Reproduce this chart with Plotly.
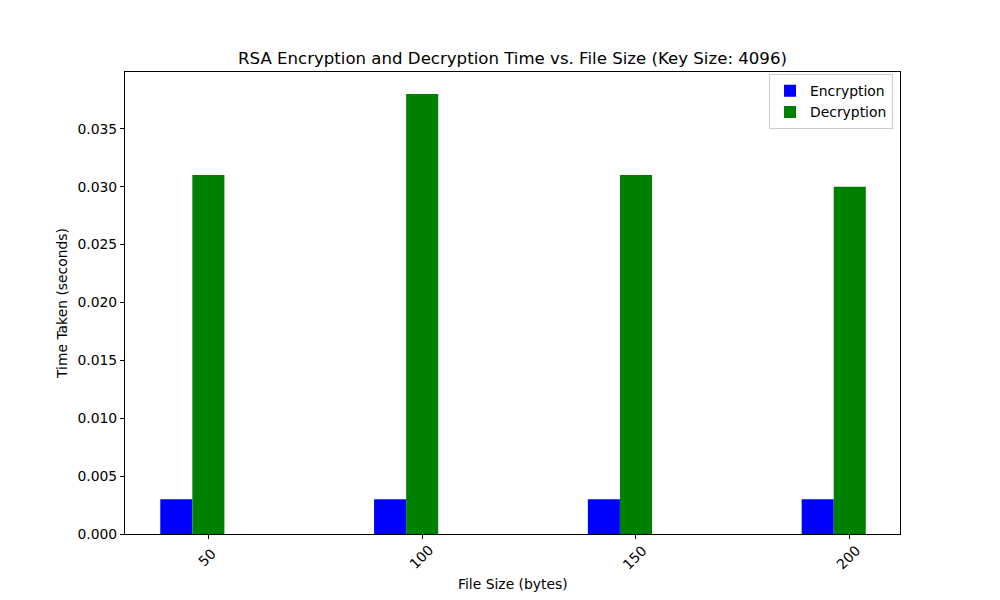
import plotly.graph_objects as go

file_sizes = [50, 100, 150, 200]
encryption_times = [0.003, 0.003, 0.003, 0.003]
decryption_times = [0.031, 0.038, 0.031, 0.030]
y_ticks = [0.0, 0.005, 0.010, 0.015, 0.020, 0.025, 0.030, 0.035]
y_tick_labels = ["0.000", "0.005", "0.010", "0.015", "0.020", "0.025", "0.030", "0.035"]
x_tick_labels = [str(v) for v in file_sizes]

bar_width = 7.5
font = "DejaVu Sans"

fig = go.Figure()
fig.add_trace(go.Bar(x=file_sizes, y=encryption_times, width=bar_width, offset=-1.5 * bar_width,
                     name="Encryption", marker=dict(color="blue", line=dict(width=0))))
fig.add_trace(go.Bar(x=file_sizes, y=decryption_times, width=bar_width, offset=-0.5 * bar_width,
                     name="Decryption", marker=dict(color="green", line=dict(width=0))))

# rotated tick labels centred on the ticks (matplotlib style)
for v, lab in zip(file_sizes, x_tick_labels):
    fig.add_annotation(x=v, xref="x", y=0, yref="paper", text=lab, textangle=-45,
                       showarrow=False, xanchor="center", yanchor="middle",
                       yshift=-23, xshift=-1, font=dict(size=13.9, family=font, color="black"))

fig.add_annotation(x=0.5, xref="paper", y=0, yref="paper", text="File Size (bytes)",
                   showarrow=False, xanchor="center", yanchor="middle", yshift=-50,
                   font=dict(size=13.9, family=font, color="black"))

fig.update_layout(
    width=1000, height=600,
    margin=dict(l=125, r=100, t=72, b=66),
    paper_bgcolor="white", plot_bgcolor="white",
    barmode="overlay",
    font=dict(family=font, size=13.9, color="black"),
    title=dict(text="RSA Encryption and Decryption Time vs. File Size (Key Size: 4096)",
               x=0.5125, xanchor="center", y=1 - 58 / 600, yanchor="middle",
               font=dict(size=16.6, family=font, color="black")),
    showlegend=True,
    legend=dict(x=0.991, xanchor="right", y=0.995, yanchor="top",
                bordercolor="#cccccc", borderwidth=1, bgcolor="rgba(255,255,255,0.8)",
                tracegroupgap=0,
                font=dict(size=13.9, family=font)),
    xaxis=dict(range=[30.5, 211.75], tickmode="array", tickvals=file_sizes,
               showticklabels=False, automargin=False,
               showline=True, linecolor="black", linewidth=1, mirror=True,
               ticks="outside", ticklen=4, tickcolor="black", showgrid=False, zeroline=False),
    yaxis=dict(range=[0, 0.0399], tickmode="array", tickvals=y_ticks, ticktext=y_tick_labels,
               automargin=False,
               showline=True, linecolor="black", linewidth=1, mirror=True,
               ticks="outside", ticklen=4, tickcolor="black", showgrid=False, zeroline=False,
               title=dict(text="Time Taken (seconds)", standoff=6, font=dict(size=13.9))),
)

fig.write_html("out.html")
